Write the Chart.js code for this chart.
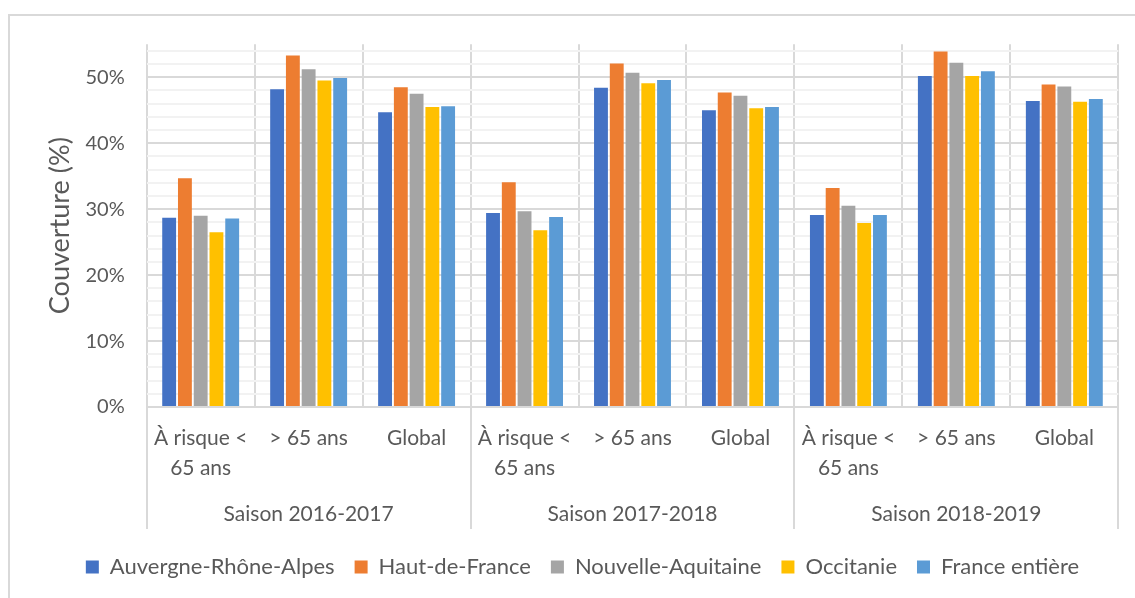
<!DOCTYPE html>
<html>
<head>
<meta charset="utf-8">
<script src="https://cdn.jsdelivr.net/npm/chart.js@4.4.1/dist/chart.umd.min.js"></script>
<style>
  html, body { margin: 0; padding: 0; background: #ffffff; }
  #wrap { position: relative; width: 1135px; height: 598px; overflow: hidden; }
  #wrap canvas { position: absolute; left: 0; top: 0; }
  #frame { position: absolute; left: 8px; top: 14px; width: 1300px; height: 800px;
           border: 2px solid #d9d9d9; box-sizing: border-box; pointer-events: none; }
</style>
</head>
<body>
<div id="wrap">
  <canvas id="chart" width="1135" height="598"></canvas>
  <div id="frame"></div>
</div>
<script>
// Vaccination coverage (%) by region, season and population group
const seasons = ['Saison 2016-2017', 'Saison 2017-2018', 'Saison 2018-2019'];
const groups = [['À risque <', '65 ans'], '> 65 ans', 'Global'];
const regions = ['Auvergne-Rhône-Alpes', 'Haut-de-France', 'Nouvelle-Aquitaine', 'Occitanie', 'France entière'];

const auvergneRhoneAlpes = [28.7, 48.2, 44.7, 29.4, 48.4, 45.0, 29.1, 50.2, 46.4];
const hautDeFrance       = [34.7, 53.3, 48.5, 34.1, 52.1, 47.7, 33.2, 53.9, 48.9];
const nouvelleAquitaine  = [29.0, 51.2, 47.5, 29.7, 50.7, 47.2, 30.5, 52.2, 48.6];
const occitanie          = [26.5, 49.5, 45.5, 26.8, 49.1, 45.3, 27.9, 50.2, 46.3];
const franceEntiere      = [28.6, 49.9, 45.6, 28.8, 49.6, 45.5, 29.1, 50.9, 46.7];

const yMin = 0, yMax = 55, yStep = 2, yLabelEvery = 10;
const colors = ['#4472C4', '#ED7D31', '#A5A5A5', '#FFC000', '#5B9BD5'];

const FONT = 'Lato, "Open Sans", sans-serif';
const TEXT = '#595959';
const GRID_MAJOR = '#d9d9d9';
const GRID_MINOR = '#f2f2f2';

const categories = seasons.flatMap(() => groups);
const seriesValues = [auvergneRhoneAlpes, hautDeFrance, nouvelleAquitaine, occitanie, franceEntiere];

// Second level of the category axis: season separators and season names
const seasonAxis = {
  id: 'seasonAxis',
  afterDraw(chart) {
    const x = chart.scales.x;
    const area = chart.chartArea;
    const ctx = chart.ctx;
    const per = groups.length;
    ctx.save();
    ctx.strokeStyle = GRID_MAJOR;
    ctx.lineWidth = 2;
    for (let s = 0; s <= seasons.length; s++) {
      const px = Math.round(x.getPixelForValue(s * per - 0.5));
      ctx.beginPath();
      ctx.moveTo(px, area.bottom);
      ctx.lineTo(px, area.bottom + 122);
      ctx.stroke();
    }
    ctx.fillStyle = TEXT;
    ctx.font = '21px ' + FONT;
    ctx.textAlign = 'center';
    ctx.textBaseline = 'middle';
    seasons.forEach((name, s) => {
      const cx = (x.getPixelForValue(s * per - 0.5) + x.getPixelForValue(s * per + per - 0.5)) / 2;
      ctx.fillText(name, cx, area.bottom + 107);
    });
    ctx.restore();
  }
};

new Chart(document.getElementById('chart'), {
  type: 'bar',
  data: {
    labels: categories,
    datasets: regions.map((name, i) => ({
      label: name,
      data: seriesValues[i],
      backgroundColor: colors[i],
      borderWidth: 0,
      categoryPercentage: 0.73,
      barPercentage: 0.88
    }))
  },
  options: {
    responsive: false,
    devicePixelRatio: 1,
    animation: false,
    layout: { padding: { left: 46.7, right: 16.7, top: 44.3, bottom: 10 } },
    plugins: {
      tooltip: { enabled: false },
      legend: {
        position: 'bottom',
        labels: {
          color: TEXT,
          font: { family: FONT, size: 22 },
          boxWidth: 13,
          boxHeight: 13,
          padding: 20
        }
      }
    },
    scales: {
      x: {
        grid: { offset: true, color: GRID_MAJOR, lineWidth: 2, drawTicks: false },
        border: { color: GRID_MAJOR, width: 2 },
        ticks: {
          color: TEXT,
          font: { family: FONT, size: 21, lineHeight: 1.4 },
          padding: 17,
          maxRotation: 0,
          autoSkip: false
        },
        afterFit(scale) { scale.height = 129; }
      },
      y: {
        min: yMin,
        max: yMax,
        border: { display: false },
        grid: {
          drawTicks: false,
          lineWidth: 2,
          color: ctx => {
            const v = ctx.tick ? ctx.tick.value : 0;
            if (v > yMax - 1) return 'rgba(0,0,0,0)';
            return v % yLabelEvery === 0 ? GRID_MAJOR : GRID_MINOR;
          }
        },
        ticks: {
          stepSize: yStep,
          includeBounds: false,
          autoSkip: false,
          color: TEXT,
          font: { family: FONT, size: 20 },
          padding: 22,
          callback: v => (v % yLabelEvery === 0 ? v + '%' : '')
        },
        title: {
          display: true,
          text: 'Couverture (%)',
          color: TEXT,
          font: { family: FONT, size: 27 },
          padding: { top: -3, bottom: 0 }
        },
        afterFit(scale) { scale.width = 100; }
      }
    }
  },
  plugins: [seasonAxis]
});
</script>
</body>
</html>
